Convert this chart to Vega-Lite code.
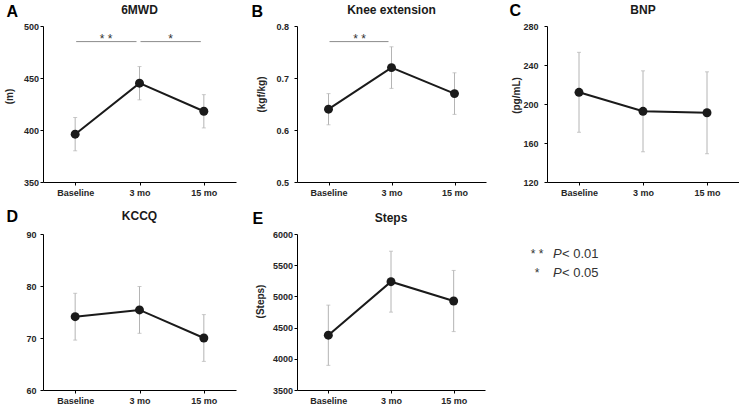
{
  "$schema": "https://vega.github.io/schema/vega-lite/v6.json",
  "background": "white",
  "autosize": {"type": "pad"},
  "padding": {"left": 4, "top": 2, "right": 0, "bottom": 0},
  "datasets": {
    "scores": [
      {"panel": "A", "time": "Baseline", "mean": 396, "lo": 380, "hi": 412},
      {"panel": "A", "time": "3 mo", "mean": 445, "lo": 429, "hi": 461},
      {"panel": "A", "time": "15 mo", "mean": 418, "lo": 402, "hi": 434},
      {"panel": "B", "time": "Baseline", "mean": 0.64, "lo": 0.61, "hi": 0.67},
      {"panel": "B", "time": "3 mo", "mean": 0.72, "lo": 0.68, "hi": 0.76},
      {"panel": "B", "time": "15 mo", "mean": 0.67, "lo": 0.63, "hi": 0.71},
      {"panel": "C", "time": "Baseline", "mean": 212, "lo": 171, "hi": 253},
      {"panel": "C", "time": "3 mo", "mean": 192.5, "lo": 151, "hi": 234},
      {"panel": "C", "time": "15 mo", "mean": 191, "lo": 149, "hi": 233},
      {"panel": "D", "time": "Baseline", "mean": 74.1, "lo": 69.6, "hi": 78.6},
      {"panel": "D", "time": "3 mo", "mean": 75.4, "lo": 70.9, "hi": 79.9},
      {"panel": "D", "time": "15 mo", "mean": 70, "lo": 65.5, "hi": 74.5},
      {"panel": "E", "time": "Baseline", "mean": 4378, "lo": 3895, "hi": 4860},
      {"panel": "E", "time": "3 mo", "mean": 5236, "lo": 4748, "hi": 5724},
      {"panel": "E", "time": "15 mo", "mean": 4926, "lo": 4436, "hi": 5416}
    ],
    "sig": [
      {"panel": "A", "from": "Baseline", "to": "3 mo", "level": 485, "stars": "* *"},
      {"panel": "A", "from": "3 mo", "to": "15 mo", "level": 485, "stars": "*"},
      {"panel": "B", "from": "Baseline", "to": "3 mo", "level": 0.77, "stars": "* *"}
    ],
    "key": [
      {"stars": "* *", "label": "< 0.01"},
      {"stars": "*", "label": "< 0.05"}
    ]
  },
  "columns": 3,
  "bounds": "flush",
  "spacing": {"row": 52, "column": 61},
  "concat": [
    {
      "width": 193, "height": 156,
      "title": {"text": "6MWD"},
      "data": {"name": "scores"},
      "transform": [{"filter": "datum.panel == 'A'"}],
      "encoding": {
        "x": {"field": "time", "type": "ordinal", "scale": {"type": "point", "padding": 0.5, "domain": ["Baseline", "3 mo", "15 mo"]}, "title": "A",
              "axis": {"titleX": -37, "titleY": -166, "titleAngle": 0, "titleAlign": "left", "titleBaseline": "alphabetic", "titleFontSize": 16, "titleColor": "#000000"}}
      },
      "layer": [
        {"mark": {"type": "errorbar", "color": "#b4b4b4", "thickness": 1, "ticks": {"size": 4}},
         "encoding": {
           "y": {"field": "lo", "type": "quantitative", "scale": {"domain": [350, 500], "nice": false, "zero": false}, "title": "(m)", "axis": {"values": [350, 400, 450, 500], "labelPadding": 1.5, "titleX": -29, "titleY": 70}},
           "y2": {"field": "hi"}}},
        {"mark": {"type": "line", "color": "#1a1a1a", "strokeWidth": 2},
         "encoding": {
           "y": {"field": "mean", "type": "quantitative", "scale": {"domain": [350, 500], "nice": false, "zero": false}, "title": "(m)", "axis": {"values": [350, 400, 450, 500], "labelPadding": 1.5, "titleX": -29, "titleY": 70}}}},
        {"mark": {"type": "point", "filled": true, "size": 80, "color": "#1a1a1a", "opacity": 1},
         "encoding": {
           "y": {"field": "mean", "type": "quantitative", "scale": {"domain": [350, 500], "nice": false, "zero": false}, "title": "(m)", "axis": {"values": [350, 400, 450, 500], "labelPadding": 1.5, "titleX": -29, "titleY": 70}}}},
        {"data": {"name": "sig"},
         "transform": [{"filter": "datum.panel == 'A'"}],
         "mark": {"type": "rule", "color": "#8c8c8c", "strokeWidth": 1, "xOffset": 1, "x2Offset": -3},
         "encoding": {
           "x": {"field": "from", "type": "ordinal", "scale": {"type": "point", "padding": 0.5, "domain": ["Baseline", "3 mo", "15 mo"]}, "title": "A",
                 "axis": {"titleX": -37, "titleY": -166, "titleAngle": 0, "titleAlign": "left", "titleBaseline": "alphabetic", "titleFontSize": 16, "titleColor": "#000000"}},
           "x2": {"field": "to"},
           "y": {"field": "level", "type": "quantitative", "scale": {"domain": [350, 500], "nice": false, "zero": false}, "title": "(m)", "axis": {"values": [350, 400, 450, 500], "labelPadding": 1.5, "titleX": -29, "titleY": 70}}}},
        {"data": {"name": "sig"},
         "transform": [{"filter": "datum.panel == 'A'"}],
         "mark": {"type": "text", "fontSize": 12, "color": "#333333", "dx": 31, "dy": 1, "baseline": "alphabetic"},
         "encoding": {
           "x": {"field": "from", "type": "ordinal", "scale": {"type": "point", "padding": 0.5, "domain": ["Baseline", "3 mo", "15 mo"]}, "title": "A",
                 "axis": {"titleX": -37, "titleY": -166, "titleAngle": 0, "titleAlign": "left", "titleBaseline": "alphabetic", "titleFontSize": 16, "titleColor": "#000000"}},
           "y": {"field": "level", "type": "quantitative", "scale": {"domain": [350, 500], "nice": false, "zero": false}, "title": "(m)", "axis": {"values": [350, 400, 450, 500], "labelPadding": 1.5, "titleX": -29, "titleY": 70}},
           "text": {"field": "stars"}}}
      ]
    },
    {
      "width": 189, "height": 156,
      "title": {"text": "Knee extension"},
      "data": {"name": "scores"},
      "transform": [{"filter": "datum.panel == 'B'"}],
      "encoding": {
        "x": {"field": "time", "type": "ordinal", "scale": {"type": "point", "padding": 0.5, "domain": ["Baseline", "3 mo", "15 mo"]}, "title": "B",
              "axis": {"titleX": -46, "titleY": -166, "titleAngle": 0, "titleAlign": "left", "titleBaseline": "alphabetic", "titleFontSize": 16, "titleColor": "#000000"}}
      },
      "layer": [
        {"mark": {"type": "errorbar", "color": "#b4b4b4", "thickness": 1, "ticks": {"size": 4}},
         "encoding": {
           "y": {"field": "lo", "type": "quantitative", "scale": {"domain": [0.5, 0.8], "nice": false, "zero": false}, "title": "(kgf/kg)", "axis": {"values": [0.5, 0.6, 0.7, 0.8], "format": ".1f", "labelPadding": 5.5, "titleX": -31, "titleY": 68}},
           "y2": {"field": "hi"}}},
        {"mark": {"type": "line", "color": "#1a1a1a", "strokeWidth": 2},
         "encoding": {
           "y": {"field": "mean", "type": "quantitative", "scale": {"domain": [0.5, 0.8], "nice": false, "zero": false}, "title": "(kgf/kg)", "axis": {"values": [0.5, 0.6, 0.7, 0.8], "format": ".1f", "labelPadding": 5.5, "titleX": -31, "titleY": 68}}}},
        {"mark": {"type": "point", "filled": true, "size": 80, "color": "#1a1a1a", "opacity": 1},
         "encoding": {
           "y": {"field": "mean", "type": "quantitative", "scale": {"domain": [0.5, 0.8], "nice": false, "zero": false}, "title": "(kgf/kg)", "axis": {"values": [0.5, 0.6, 0.7, 0.8], "format": ".1f", "labelPadding": 5.5, "titleX": -31, "titleY": 68}}}},
        {"data": {"name": "sig"},
         "transform": [{"filter": "datum.panel == 'B'"}],
         "mark": {"type": "rule", "color": "#8c8c8c", "strokeWidth": 1, "xOffset": 1, "x2Offset": -3},
         "encoding": {
           "x": {"field": "from", "type": "ordinal", "scale": {"type": "point", "padding": 0.5, "domain": ["Baseline", "3 mo", "15 mo"]}, "title": "B",
                 "axis": {"titleX": -46, "titleY": -166, "titleAngle": 0, "titleAlign": "left", "titleBaseline": "alphabetic", "titleFontSize": 16, "titleColor": "#000000"}},
           "x2": {"field": "to"},
           "y": {"field": "level", "type": "quantitative", "scale": {"domain": [0.5, 0.8], "nice": false, "zero": false}, "title": "(kgf/kg)", "axis": {"values": [0.5, 0.6, 0.7, 0.8], "format": ".1f", "labelPadding": 5.5, "titleX": -31, "titleY": 68}}}},
        {"data": {"name": "sig"},
         "transform": [{"filter": "datum.panel == 'B'"}],
         "mark": {"type": "text", "fontSize": 12, "color": "#333333", "dx": 31, "dy": 1, "baseline": "alphabetic"},
         "encoding": {
           "x": {"field": "from", "type": "ordinal", "scale": {"type": "point", "padding": 0.5, "domain": ["Baseline", "3 mo", "15 mo"]}, "title": "B",
                 "axis": {"titleX": -46, "titleY": -166, "titleAngle": 0, "titleAlign": "left", "titleBaseline": "alphabetic", "titleFontSize": 16, "titleColor": "#000000"}},
           "y": {"field": "level", "type": "quantitative", "scale": {"domain": [0.5, 0.8], "nice": false, "zero": false}, "title": "(kgf/kg)", "axis": {"values": [0.5, 0.6, 0.7, 0.8], "format": ".1f", "labelPadding": 5.5, "titleX": -31, "titleY": 68}},
           "text": {"field": "stars"}}}
      ]
    },
    {
      "width": 192, "height": 156,
      "title": {"text": "BNP"},
      "data": {"name": "scores"},
      "transform": [{"filter": "datum.panel == 'C'"}],
      "encoding": {
        "x": {"field": "time", "type": "ordinal", "scale": {"type": "point", "padding": 0.5, "domain": ["Baseline", "3 mo", "15 mo"]}, "title": "C",
              "axis": {"titleX": -38, "titleY": -166.5, "titleAngle": 0, "titleAlign": "left", "titleBaseline": "alphabetic", "titleFontSize": 16, "titleColor": "#000000"}}
      },
      "layer": [
        {"mark": {"type": "errorbar", "color": "#b4b4b4", "thickness": 1, "ticks": {"size": 4}},
         "encoding": {
           "y": {"field": "lo", "type": "quantitative", "scale": {"domain": [120, 280], "nice": false, "zero": false}, "title": "(pg/mL)", "axis": {"values": [120, 160, 200, 240, 280], "labelPadding": 6, "titleX": -26, "titleY": 69}},
           "y2": {"field": "hi"}}},
        {"mark": {"type": "line", "color": "#1a1a1a", "strokeWidth": 2},
         "encoding": {
           "y": {"field": "mean", "type": "quantitative", "scale": {"domain": [120, 280], "nice": false, "zero": false}, "title": "(pg/mL)", "axis": {"values": [120, 160, 200, 240, 280], "labelPadding": 6, "titleX": -26, "titleY": 69}}}},
        {"mark": {"type": "point", "filled": true, "size": 80, "color": "#1a1a1a", "opacity": 1},
         "encoding": {
           "y": {"field": "mean", "type": "quantitative", "scale": {"domain": [120, 280], "nice": false, "zero": false}, "title": "(pg/mL)", "axis": {"values": [120, 160, 200, 240, 280], "labelPadding": 6, "titleX": -26, "titleY": 69}}}}
      ]
    },
    {
      "width": 193, "height": 156,
      "title": {"text": "KCCQ"},
      "data": {"name": "scores"},
      "transform": [{"filter": "datum.panel == 'D'"}],
      "encoding": {
        "x": {"field": "time", "type": "ordinal", "scale": {"type": "point", "padding": 0.5, "domain": ["Baseline", "3 mo", "15 mo"]}, "title": "D",
              "axis": {"titleX": -37, "titleY": -168.5, "titleAngle": 0, "titleAlign": "left", "titleBaseline": "alphabetic", "titleFontSize": 16, "titleColor": "#000000"}}
      },
      "layer": [
        {"mark": {"type": "errorbar", "color": "#b4b4b4", "thickness": 1, "ticks": {"size": 4}},
         "encoding": {
           "y": {"field": "lo", "type": "quantitative", "scale": {"domain": [60, 90], "nice": false, "zero": false}, "title": null, "axis": {"values": [60, 70, 80, 90], "labelPadding": 4}},
           "y2": {"field": "hi"}}},
        {"mark": {"type": "line", "color": "#1a1a1a", "strokeWidth": 2},
         "encoding": {
           "y": {"field": "mean", "type": "quantitative", "scale": {"domain": [60, 90], "nice": false, "zero": false}, "title": null, "axis": {"values": [60, 70, 80, 90], "labelPadding": 4}}}},
        {"mark": {"type": "point", "filled": true, "size": 80, "color": "#1a1a1a", "opacity": 1},
         "encoding": {
           "y": {"field": "mean", "type": "quantitative", "scale": {"domain": [60, 90], "nice": false, "zero": false}, "title": null, "axis": {"values": [60, 70, 80, 90], "labelPadding": 4}}}}
      ]
    },
    {
      "width": 188, "height": 156,
      "title": {"text": "Steps"},
      "data": {"name": "scores"},
      "transform": [{"filter": "datum.panel == 'E'"}],
      "encoding": {
        "x": {"field": "time", "type": "ordinal", "scale": {"type": "point", "padding": 0.5, "domain": ["Baseline", "3 mo", "15 mo"]}, "title": "E",
              "axis": {"titleX": -45, "titleY": -166.5, "titleAngle": 0, "titleAlign": "left", "titleBaseline": "alphabetic", "titleFontSize": 16, "titleColor": "#000000"}}
      },
      "layer": [
        {"mark": {"type": "errorbar", "color": "#b4b4b4", "thickness": 1, "ticks": {"size": 4}},
         "encoding": {
           "y": {"field": "lo", "type": "quantitative", "scale": {"domain": [3500, 6000], "nice": false, "zero": false}, "title": "(Steps)", "axis": {"values": [3500, 4000, 4500, 5000, 5500, 6000], "format": "d", "labelPadding": 1.5, "titleX": -32, "titleY": 67}},
           "y2": {"field": "hi"}}},
        {"mark": {"type": "line", "color": "#1a1a1a", "strokeWidth": 2},
         "encoding": {
           "y": {"field": "mean", "type": "quantitative", "scale": {"domain": [3500, 6000], "nice": false, "zero": false}, "title": "(Steps)", "axis": {"values": [3500, 4000, 4500, 5000, 5500, 6000], "format": "d", "labelPadding": 1.5, "titleX": -32, "titleY": 67}}}},
        {"mark": {"type": "point", "filled": true, "size": 80, "color": "#1a1a1a", "opacity": 1},
         "encoding": {
           "y": {"field": "mean", "type": "quantitative", "scale": {"domain": [3500, 6000], "nice": false, "zero": false}, "title": "(Steps)", "axis": {"values": [3500, 4000, 4500, 5000, 5500, 6000], "format": "d", "labelPadding": 1.5, "titleX": -32, "titleY": 67}}}}
      ]
    },
    {
      "width": 22, "height": 59,
      "data": {"name": "key"},
      "encoding": {
        "y": {"field": "label", "type": "ordinal", "scale": {"type": "point", "padding": 1.235, "domain": ["< 0.01", "< 0.05"]}, "axis": null}
      },
      "layer": [
        {"mark": {"type": "text", "align": "center", "dx": -21, "fontSize": 12, "color": "#333333"},
         "encoding": {"text": {"field": "stars"}}},
        {"mark": {"type": "text", "align": "left", "dx": -5, "fontSize": 13, "fontStyle": "italic", "color": "#333333"},
         "encoding": {"text": {"value": "P"}}},
        {"mark": {"type": "text", "align": "left", "dx": 4, "fontSize": 13, "color": "#333333"},
         "encoding": {"text": {"field": "label"}}}
      ]
    }
  ],
  "config": {
    "font": "Liberation Sans",
    "view": {"stroke": null},
    "axis": {
      "labelFont": "Liberation Sans", "labelFontSize": 9, "labelFontWeight": "bold", "labelColor": "#262626",
      "titleFont": "Liberation Sans", "titleFontSize": 10, "titleFontWeight": "bold", "titleColor": "#262626",
      "domainColor": "#000000", "domainWidth": 1, "tickColor": "#000000", "tickWidth": 1, "tickSize": 3,
      "grid": false
    },
    "axisX": {"labelAngle": 0, "labelPadding": 3},
    "title": {"font": "Liberation Sans", "fontSize": 12, "fontWeight": "bold", "color": "#1a1a1a", "anchor": "middle", "frame": "group", "baseline": "alphabetic", "offset": -14}
  }
}
